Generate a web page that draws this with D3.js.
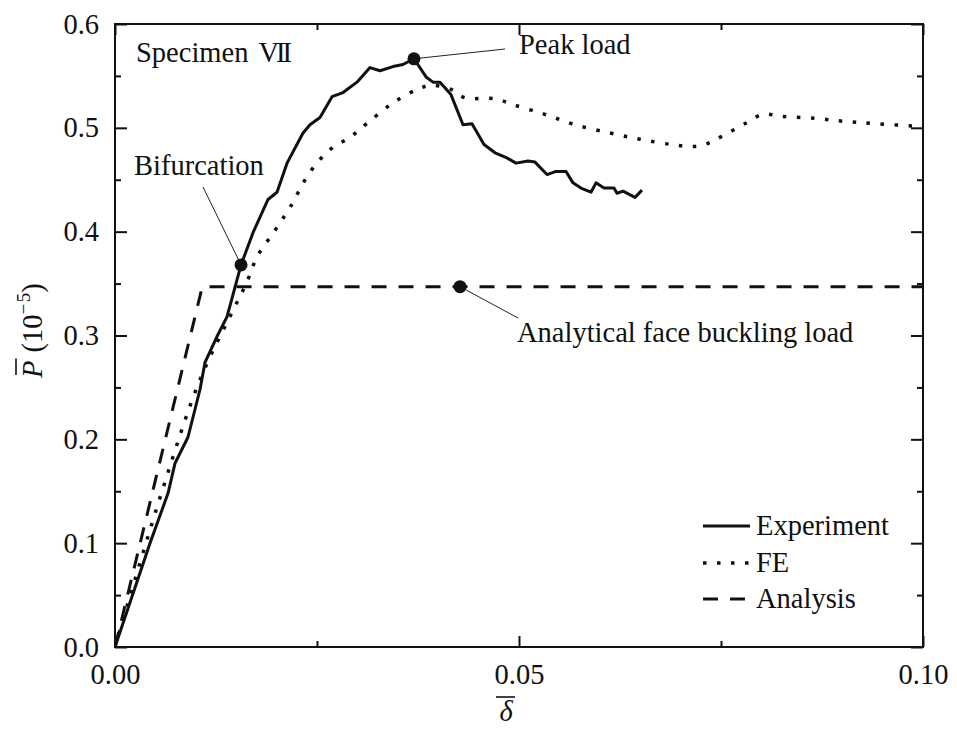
<!DOCTYPE html>
<html>
<head>
<meta charset="utf-8">
<script src="https://cdn.jsdelivr.net/npm/d3@7"></script>
<style>
  html, body { margin: 0; padding: 0; background: #fff; }
  svg { display: block; }
  text { font-family: "Liberation Serif", "Times New Roman", serif; fill: #111; }
</style>
</head>
<body>
<svg id="chart" width="957" height="729"></svg>
<script>
// Normalised displacement (delta) and load (P, x10^-5) for specimen VII
const expDelta = [0, 0.00433, 0.00656, 0.00743, 0.00903, 0.01052, 0.01114, 0.01262, 0.01386, 0.0156,
  0.01708, 0.01894, 0.02005, 0.02129, 0.02327, 0.02413, 0.02537, 0.02686, 0.02822, 0.02995,
  0.03156, 0.0328, 0.03441, 0.03564, 0.037, 0.0385, 0.03936, 0.04022, 0.04158, 0.04307,
  0.04418, 0.04567, 0.04703, 0.04851, 0.04963, 0.05111, 0.05198, 0.05347, 0.05458, 0.05582,
  0.05668, 0.05767, 0.05891, 0.05953, 0.06052, 0.06176, 0.06213, 0.06287, 0.06436, 0.06522];
const expLoad = [0, 0.100, 0.148, 0.177, 0.202, 0.248, 0.274, 0.299, 0.318, 0.368,
  0.399, 0.431, 0.438, 0.466, 0.495, 0.503, 0.510, 0.530, 0.534, 0.544,
  0.558, 0.555, 0.559, 0.561, 0.5665, 0.549, 0.544, 0.544, 0.532, 0.503,
  0.504, 0.484, 0.476, 0.471, 0.466, 0.468, 0.467, 0.455, 0.458, 0.458,
  0.447, 0.442, 0.438, 0.447, 0.442, 0.442, 0.437, 0.439, 0.433, 0.440];

const feDelta = [0, 0.00594, 0.0105, 0.01485, 0.0163, 0.0176, 0.0196, 0.0217, 0.0241, 0.0266,
  0.0291, 0.0313, 0.0344, 0.0374, 0.0392, 0.0416, 0.0433, 0.047, 0.0494, 0.0532,
  0.0569, 0.0613, 0.065, 0.0688, 0.0712, 0.073, 0.0749, 0.0782, 0.0802, 0.0825,
  0.0868, 0.0906, 0.0943, 0.100];
const feLoad = [0, 0.153, 0.257, 0.328, 0.351, 0.376, 0.399, 0.424, 0.457, 0.479,
  0.491, 0.505, 0.524, 0.537, 0.541, 0.537, 0.529, 0.528, 0.522, 0.513,
  0.503, 0.495, 0.489, 0.484, 0.482, 0.484, 0.491, 0.505, 0.513, 0.511,
  0.509, 0.506, 0.504, 0.501];

const anaDelta = [0, 0.0108, 0.100];
const anaLoad = [0, 0.347, 0.347];

const xTicks = [0, 0.05, 0.10];
const xMinorTicks = [0.025, 0.075];
const yTicks = [0, 0.1, 0.2, 0.3, 0.4, 0.5, 0.6];
const yMinorTicks = [0.05, 0.15, 0.25, 0.35, 0.45, 0.55];

const seriesNames = ["Experiment", "FE", "Analysis"];

// Marked points: [delta, load, label]
const marks = [
  [0.0156, 0.368, "Bifurcation"],
  [0.037, 0.5665, "Peak load"],
  [0.0427, 0.347, "Analytical face buckling load"]
];

const svg = d3.select("#chart");
const FS = 28.5;
const SERIF = '"Liberation Serif", "Times New Roman", serif';
const pL = 115, pR = 923, pT = 24, pB = 647;

const x = d3.scaleLinear().domain([0, 0.1]).range([pL, pR]);
const y = d3.scaleLinear().domain([0, 0.6]).range([pB, pT]);

// axes: ticks point inwards on all four sides
function styleAxis(g) {
  g.attr("font-family", SERIF);
  g.selectAll(".domain").remove();
  g.selectAll(".tick line").attr("stroke", "#111").attr("stroke-width", 2);
  g.selectAll(".tick text").attr("font-size", FS).attr("fill", "#111")
    .style("font-family", SERIF);
}
svg.append("g").attr("transform", `translate(0,${pB})`)
  .call(d3.axisBottom(x).tickValues(xTicks).tickFormat(d3.format(".2f")).tickSizeInner(-11).tickSizeOuter(0).tickPadding(17))
  .call(styleAxis);
svg.append("g").attr("transform", `translate(0,${pB})`)
  .call(d3.axisBottom(x).tickValues(xMinorTicks).tickFormat("").tickSizeInner(-6).tickSizeOuter(0))
  .call(styleAxis);
svg.append("g").attr("transform", `translate(0,${pT})`)
  .call(d3.axisTop(x).tickValues(xTicks).tickFormat("").tickSizeInner(-11).tickSizeOuter(0))
  .call(styleAxis);
svg.append("g").attr("transform", `translate(0,${pT})`)
  .call(d3.axisTop(x).tickValues(xMinorTicks).tickFormat("").tickSizeInner(-6).tickSizeOuter(0))
  .call(styleAxis);
svg.append("g").attr("transform", `translate(${pL},0)`)
  .call(d3.axisLeft(y).tickValues(yTicks).tickFormat(d3.format(".1f")).tickSizeInner(-12).tickSizeOuter(0).tickPadding(16))
  .call(styleAxis);
svg.append("g").attr("transform", `translate(${pL},0)`)
  .call(d3.axisLeft(y).tickValues(yMinorTicks).tickFormat("").tickSizeInner(-6).tickSizeOuter(0))
  .call(styleAxis);
svg.append("g").attr("transform", `translate(${pR},0)`)
  .call(d3.axisRight(y).tickValues(yTicks).tickFormat("").tickSizeInner(-12).tickSizeOuter(0))
  .call(styleAxis);
svg.append("g").attr("transform", `translate(${pR},0)`)
  .call(d3.axisRight(y).tickValues(yMinorTicks).tickFormat("").tickSizeInner(-6).tickSizeOuter(0))
  .call(styleAxis);

// frame
svg.append("rect").attr("x", pL).attr("y", pT)
  .attr("width", pR - pL).attr("height", pB - pT)
  .attr("fill", "none").attr("stroke", "#111").attr("stroke-width", 2);

// curves, clipped to the frame
svg.append("clipPath").attr("id", "plotclip")
  .append("rect").attr("x", pL).attr("y", pT).attr("width", pR - pL).attr("height", pB - pT);

const plot = svg.append("g").attr("clip-path", "url(#plotclip)");

const lineExp = d3.line().x(d => x(d[0])).y(d => y(d[1]));
const lineFe = d3.line().x(d => x(d[0])).y(d => y(d[1])).curve(d3.curveCatmullRom.alpha(0.5));

const styles = {
  Experiment: { dash: null, width: 3 },
  FE: { dash: "3.5,10.5", width: 3.5 },
  Analysis: { dash: "15,12", width: 3 }
};

plot.append("path").datum(d3.zip(anaDelta, anaLoad))
  .attr("d", lineExp).attr("fill", "none").attr("stroke", "#111")
  .attr("stroke-width", styles.Analysis.width).attr("stroke-dasharray", styles.Analysis.dash);
plot.append("path").datum(d3.zip(feDelta, feLoad))
  .attr("d", lineFe).attr("fill", "none").attr("stroke", "#111")
  .attr("stroke-width", styles.FE.width).attr("stroke-dasharray", styles.FE.dash);
plot.append("path").datum(d3.zip(expDelta, expLoad))
  .attr("d", lineExp).attr("fill", "none").attr("stroke", "#111")
  .attr("stroke-width", styles.Experiment.width).attr("stroke-linejoin", "round");

// annotations: dot, thin leader line, label
const labelPos = [
  { tx: 134, ty: 175, lx: 203, ly: 187 },
  { tx: 519, ty: 54, lx: 505, ly: 49 },
  { tx: 517, ty: 342, lx: 518, ly: 318 }
];
marks.forEach((m, i) => {
  const p = labelPos[i];
  svg.append("line").attr("x1", x(m[0])).attr("y1", y(m[1]))
    .attr("x2", p.lx).attr("y2", p.ly).attr("stroke", "#222").attr("stroke-width", 1);
  svg.append("circle").attr("cx", x(m[0])).attr("cy", y(m[1])).attr("r", 6.5).attr("fill", "#111");
  svg.append("text").attr("x", p.tx).attr("y", p.ty).attr("font-size", FS)
    .attr("font-family", SERIF).text(m[2]);
});

const spec = svg.append("text").attr("x", 136).attr("y", 62).attr("font-size", FS)
  .attr("font-family", SERIF);
spec.append("tspan").text("Specimen ");
spec.append("tspan").attr("dx", 3).attr("letter-spacing", -3).text("VII");

// legend
const legY = [526, 563, 599];
seriesNames.forEach((name, i) => {
  const s = styles[name];
  svg.append("line").attr("x1", 703).attr("x2", 750).attr("y1", legY[i]).attr("y2", legY[i])
    .attr("stroke", "#111").attr("stroke-width", s.width)
    .attr("stroke-dasharray", s.dash);
  svg.append("text").attr("x", 756).attr("y", legY[i] + 9).attr("font-size", FS)
    .attr("font-family", SERIF).text(name);
});

// y-axis title: P with overbar, (10^-5)
const yt = svg.append("g").attr("transform", "translate(42,378) rotate(-90)");
const pText = yt.append("text").attr("x", 0).attr("y", 0).attr("font-size", FS)
  .attr("font-family", SERIF).attr("font-style", "italic").text("P");
const pW = pText.node().getComputedTextLength();
yt.append("line").attr("x1", 3).attr("x2", pW + 2).attr("y1", -26).attr("y2", -26)
  .attr("stroke", "#111").attr("stroke-width", 1.6);
const rest = yt.append("text").attr("x", pW + 8).attr("y", 0).attr("font-size", FS)
  .attr("font-family", SERIF);
rest.append("tspan").text("(10");
rest.append("tspan").attr("font-size", 19).attr("dy", -12).text("\u2212\u200a5");
rest.append("tspan").attr("dy", 12).text(")");

// x-axis title: delta with overbar
svg.append("text").attr("x", 506).attr("y", 721).attr("font-size", FS)
  .attr("font-family", SERIF).attr("font-style", "italic").attr("text-anchor", "middle").text("\u03b4");
svg.append("line").attr("x1", 496).attr("x2", 515).attr("y1", 697).attr("y2", 697)
  .attr("stroke", "#111").attr("stroke-width", 1.6);
</script>
</body>
</html>
